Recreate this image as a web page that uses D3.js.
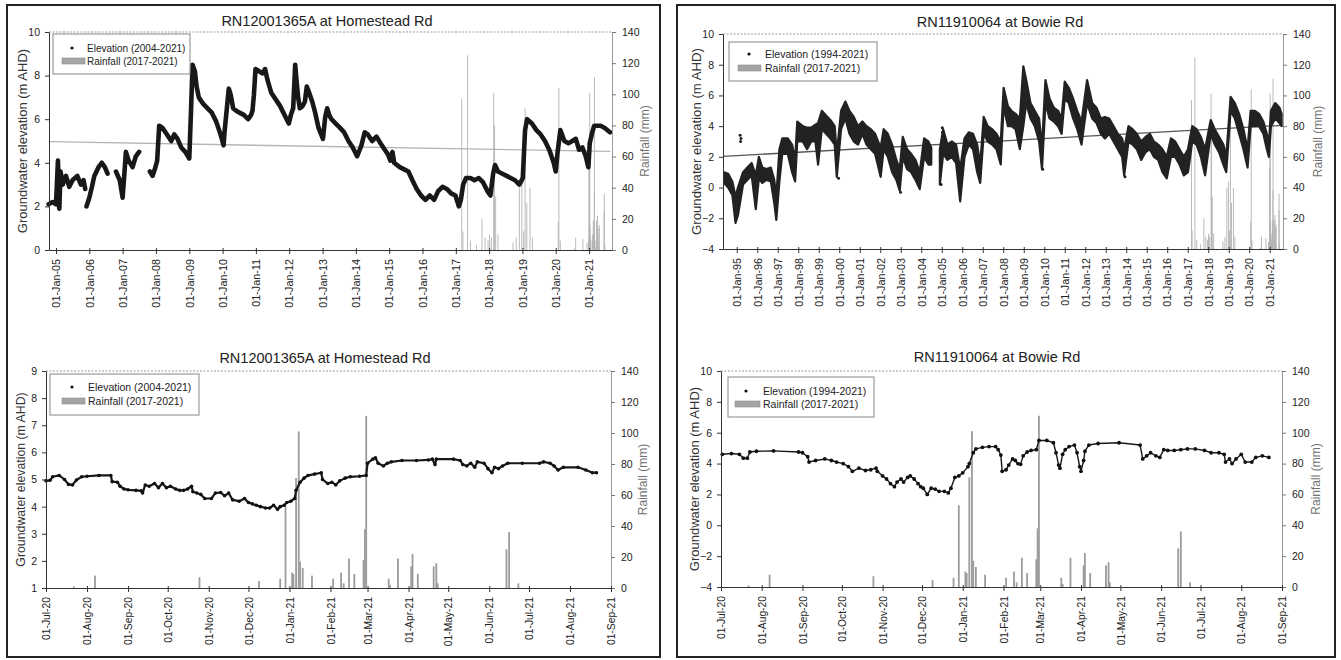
<!DOCTYPE html>
<html><head><meta charset="utf-8">
<script src="https://cdn.jsdelivr.net/npm/d3@7"></script>
<style>
body{margin:0;background:#fff}
svg{display:block}
text{font-family:"Liberation Sans",Arial,sans-serif}
</style>
</head><body>
<svg id="c" width="1341" height="660"></svg>
<script>
// ---------------- DATA ----------------
const tlYTicks = [0,2,4,6,8,10];
const trYTicks = [-4,-2,0,2,4,6,8,10];
const blYTicks = [1,2,3,4,5,6,7,8,9];
const brYTicks = [-4,-2,0,2,4,6,8,10];
const rainTicks = [0,20,40,60,80,100,120,140];

const tlTickLabels = ["01-Jan-05","01-Jan-06","01-Jan-07","01-Jan-08","01-Jan-09","01-Jan-10","01-Jan-11","01-Jan-12","01-Jan-13","01-Jan-14","01-Jan-15","01-Jan-16","01-Jan-17","01-Jan-18","01-Jan-19","01-Jan-20","01-Jan-21"];
const trTickLabels = ["01-Jan-95","01-Jan-96","01-Jan-97","01-Jan-98","01-Jan-99","01-Jan-00","01-Jan-01","01-Jan-02","01-Jan-03","01-Jan-04","01-Jan-05","01-Jan-06","01-Jan-07","01-Jan-08","01-Jan-09","01-Jan-10","01-Jan-11","01-Jan-12","01-Jan-13","01-Jan-14","01-Jan-15","01-Jan-16","01-Jan-17","01-Jan-18","01-Jan-19","01-Jan-20","01-Jan-21"];
const bottomTickLabels = ["01-Jul-20","01-Aug-20","01-Sep-20","01-Oct-20","01-Nov-20","01-Dec-20","01-Jan-21","01-Feb-21","01-Mar-21","01-Apr-21","01-May-21","01-Jun-21","01-Jul-21","01-Aug-21","01-Sep-21"];

// Homestead Rd elevation (2004-2021), null = gap
const tlDates = ["2004-10-12","2004-11-25","2005-01-01","2005-01-22","2005-02-06","2005-02-20","2005-03-15","2005-04-20","2005-05-26","2005-07-01","2005-08-22","2005-10-01","2005-10-30","2005-11-17","2005-11-25","2005-12-01","2006-01-01","2006-01-30","2006-02-25","2006-04-12","2006-05-18","2006-06-20","2006-07-20","2006-08-15","2006-10-20","2006-12-01","2007-01-01","2007-01-22","2007-02-06","2007-03-08","2007-04-20","2007-05-26","2007-07-01","2007-09-01","2007-10-27","2007-11-25","2007-12-20","2008-01-15","2008-02-06","2008-03-14","2008-05-01","2008-06-17","2008-07-20","2008-08-25","2008-10-05","2008-11-18","2009-01-01","2009-01-20","2009-02-06","2009-03-03","2009-03-22","2009-04-15","2009-06-03","2009-07-20","2009-09-05","2009-10-22","2009-12-10","2010-01-12","2010-01-22","2010-02-17","2010-03-10","2010-04-01","2010-04-27","2010-05-26","2010-07-05","2010-08-22","2010-10-08","2010-11-10","2010-11-25","2010-12-10","2010-12-28","2011-02-06","2011-03-14","2011-04-12","2011-05-08","2011-06-20","2011-08-08","2011-09-24","2011-11-10","2011-12-28","2012-01-20","2012-02-14","2012-03-07","2012-03-21","2012-04-08","2012-04-27","2012-05-26","2012-06-21","2012-07-12","2012-08-08","2012-09-10","2012-10-12","2012-11-18","2013-01-05","2013-01-30","2013-02-21","2013-03-14","2013-04-08","2013-05-26","2013-07-12","2013-08-25","2013-10-12","2013-11-28","2014-01-15","2014-03-03","2014-04-08","2014-05-12","2014-06-28","2014-08-15","2014-09-28","2014-11-14","2014-12-17","2015-01-15","2015-02-06","2015-02-25","2015-04-27","2015-06-14","2015-07-31","2015-09-13","2015-10-30","2015-12-17","2016-02-03","2016-03-22","2016-05-08","2016-06-21","2016-08-08","2016-09-24","2016-11-10","2016-12-28","2017-02-03","2017-02-25","2017-03-22","2017-04-23","2017-06-10","2017-07-24","2017-09-10","2017-10-27","2017-12-14","2018-01-15","2018-02-14","2018-03-07","2018-04-08","2018-05-26","2018-07-12","2018-08-25","2018-10-12","2018-11-28","2019-01-05","2019-01-30","2019-02-21","2019-04-15","2019-06-03","2019-07-20","2019-09-05","2019-10-22","2019-12-10","2020-01-01","2020-01-22","2020-02-21","2020-04-05","2020-05-19","2020-07-01","2020-08-08","2020-09-13","2020-10-20","2020-11-25","2020-12-24","2021-01-08","2021-01-30","2021-02-25","2021-05-08","2021-06-21","2021-08-18"];
const tlValues = [2.1,2.2,2.1,4.1,1.9,3.6,3.0,3.4,2.9,3.2,3.4,3.0,3.2,2.8,null,2.0,2.4,2.9,3.4,3.8,4.0,3.8,3.5,null,3.6,3.2,2.4,3.6,4.5,4.1,3.8,4.3,4.5,null,3.6,3.4,3.7,4.1,5.7,5.6,5.3,5.0,5.3,5.1,4.7,4.5,4.2,6.4,8.5,8.2,7.5,7.0,6.7,6.5,6.3,5.9,5.3,4.8,5.4,6.5,7.4,7.1,6.5,6.4,6.3,6.2,6.0,6.2,6.4,7.1,8.3,8.2,8.1,8.3,7.8,7.2,6.9,6.6,6.2,5.8,6.2,6.5,8.5,7.8,7.0,6.5,6.6,6.8,7.5,7.2,6.8,6.3,5.6,5.1,6.1,6.5,6.2,6.0,5.8,5.6,5.4,5.0,4.7,4.3,4.8,5.4,5.3,5.0,5.2,4.9,4.6,4.4,4.1,4.5,4.0,3.8,3.7,3.6,3.2,2.8,2.5,2.3,2.5,2.3,2.7,2.9,2.8,2.6,2.5,2.0,2.3,3.0,3.3,3.3,3.2,3.3,3.1,2.7,2.5,3.5,3.9,3.6,3.5,3.4,3.3,3.2,3.0,3.3,5.5,6.0,5.8,5.5,5.3,5.0,4.6,4.0,3.6,4.5,5.5,5.0,4.9,5.0,5.1,4.6,4.7,4.3,3.8,4.9,5.3,5.7,5.7,5.6,5.4];
const tlTrendDates = ["2004-10-16","2021-08-20"];
const tlTrendValues = [4.97,4.52];

// Bowie Rd elevation (1994-2021): low / high of the dot band
const trDates = ["1994-05-20","1994-08-01","1994-10-15","1994-12-10","1995-01-22","1995-04-23","1995-07-08","1995-09-24","1995-12-06","1996-01-30","1996-04-01","1996-06-14","1996-08-30","1996-10-30","1996-12-06","1997-01-30","1997-03-22","1997-06-28","1997-09-13","1997-11-06","1997-12-14","1998-03-22","1998-06-07","1998-08-20","1998-11-03","1998-12-20","1999-02-25","1999-05-12","1999-07-27","1999-10-12","1999-11-18","2000-02-03","2000-04-20","2000-07-01","2000-09-16","2000-12-01","2001-02-17","2001-05-01","2001-07-16","2001-10-01","2002-01-08","2002-03-03","2002-05-16","2002-07-31","2002-10-15","2002-12-14","2003-02-06","2003-04-23","2003-07-05","2003-09-20","2003-12-06","2004-02-21","2004-05-08","2004-06-28","2004-08-15","2004-11-28","2005-01-26","2005-04-12","2005-06-28","2005-09-13","2005-11-25","2006-02-10","2006-04-27","2006-07-12","2006-09-24","2006-11-17","2007-01-18","2007-04-01","2007-06-17","2007-09-02","2007-11-18","2008-01-08","2008-03-25","2008-05-26","2008-08-08","2008-10-23","2008-12-24","2009-02-14","2009-05-01","2009-07-16","2009-10-01","2009-11-22","2010-01-22","2010-04-05","2010-06-21","2010-09-05","2010-11-06","2011-01-01","2011-03-14","2011-05-30","2011-08-12","2011-10-27","2012-02-03","2012-05-04","2012-07-20","2012-10-05","2012-12-17","2013-03-03","2013-05-19","2013-08-04","2013-10-20","2013-11-25","2014-02-10","2014-04-23","2014-07-08","2014-09-24","2014-12-10","2015-02-25","2015-05-08","2015-07-24","2015-10-08","2015-12-24","2016-03-07","2016-05-22","2016-08-08","2016-10-23","2017-01-05","2017-03-22","2017-06-07","2017-08-22","2017-11-06","2018-02-14","2018-04-27","2018-07-12","2018-09-28","2018-11-18","2019-02-03","2019-04-20","2019-07-05","2019-09-20","2019-12-03","2020-01-26","2020-04-12","2020-06-24","2020-09-09","2020-11-10","2020-12-17","2021-01-22","2021-04-08","2021-06-24","2021-07-31"];
const trLow = [0.3,0.0,-0.5,-2.3,-1.8,0.2,0.5,0.8,-1.4,0.6,0.3,0.5,0.4,-1.0,-2.1,0.4,2.2,2.2,1.0,0.4,3.0,3.0,2.5,3.0,3.0,1.5,3.8,3.5,3.2,2.8,0.7,3.8,4.5,3.5,3.0,2.8,3.5,2.8,2.5,2.2,0.7,2.5,2.0,1.0,0.5,-0.2,2.0,1.2,1.0,0.5,-0.1,2.0,1.5,1.5,null,0.2,2.2,1.8,2.0,1.6,-0.9,2.0,2.8,2.5,1.0,0.3,3.5,3.0,2.8,2.5,1.5,5.3,4.0,4.0,3.8,2.5,4.0,5.5,4.5,4.0,3.0,1.2,5.5,4.5,4.3,4.0,3.5,5.8,5.5,4.5,3.8,2.8,5.5,4.5,4.2,3.5,3.2,3.5,3.0,2.5,2.0,0.8,3.0,2.8,2.5,1.8,2.3,2.5,2.0,1.8,1.0,0.6,2.0,2.0,1.5,0.8,1.0,3.0,2.8,2.0,0.8,3.5,2.8,2.3,1.5,1.0,5.0,4.5,3.5,2.5,1.3,4.0,4.0,4.0,3.5,2.5,2.0,4.0,4.5,4.2,4.0];
const trHigh = [1.0,0.9,0.4,-0.6,0.0,1.0,1.3,1.6,0.8,2.0,1.3,1.2,1.3,0.5,-0.6,2.5,3.2,3.2,2.8,1.8,4.3,4.0,3.9,3.9,4.1,4.2,5.0,4.7,4.4,4.0,2.2,5.0,5.6,5.0,4.6,4.0,4.3,4.0,3.8,3.5,2.6,3.8,3.5,2.8,1.8,1.2,3.3,2.5,2.2,1.8,1.0,3.2,3.0,2.6,null,2.5,3.8,2.8,3.0,2.8,1.2,3.2,3.6,3.5,2.8,1.5,4.6,4.0,3.8,3.5,3.0,6.5,5.3,5.0,4.8,4.5,7.9,7.0,5.5,5.0,4.5,2.6,7.0,5.8,5.2,5.0,4.5,6.9,6.5,5.8,5.0,4.3,7.0,5.5,5.2,4.5,4.6,4.5,4.0,3.5,3.2,2.5,4.0,3.8,3.5,3.0,3.3,3.5,3.0,2.8,2.5,2.0,3.2,3.0,2.5,2.0,2.5,4.0,3.8,3.3,2.5,4.4,3.8,3.3,2.8,2.0,5.9,5.5,4.8,3.8,2.5,5.0,5.0,4.8,4.3,3.5,2.8,5.0,5.5,5.2,4.8];
const trOutDates = ["1995-03-02","1995-03-10","1995-03-18","2004-12-20","2005-01-10","2005-01-15","2009-12-05","2013-12-10","1999-12-20","2002-12-28"];
const trOutValues = [3.4,3.0,3.2,0.2,3.9,3.6,1.2,0.7,0.6,-0.3];
const trTrendDates = ["1994-05-10","2021-08-20"];
const trTrendValues = [2.03,4.05];

// Homestead Rd, Jul 2020 - Aug 2021
const blDates = ["2020-07-01","2020-07-04","2020-07-06","2020-07-11","2020-07-15","2020-07-18","2020-07-21","2020-07-24","2020-07-28","2020-08-01","2020-08-10","2020-08-19","2020-08-20","2020-08-24","2020-08-26","2020-08-29","2020-09-01","2020-09-07","2020-09-11","2020-09-12","2020-09-14","2020-09-17","2020-09-21","2020-09-24","2020-09-27","2020-09-30","2020-10-03","2020-10-07","2020-10-10","2020-10-13","2020-10-16","2020-10-19","2020-10-20","2020-10-23","2020-10-26","2020-10-29","2020-11-03","2020-11-06","2020-11-10","2020-11-13","2020-11-16","2020-11-19","2020-11-24","2020-11-28","2020-12-01","2020-12-04","2020-12-07","2020-12-10","2020-12-14","2020-12-17","2020-12-20","2020-12-23","2020-12-25","2020-12-28","2020-12-30","2021-01-02","2021-01-05","2021-01-06","2021-01-09","2021-01-12","2021-01-15","2021-01-20","2021-01-25","2021-01-26","2021-01-30","2021-02-02","2021-02-05","2021-02-08","2021-02-12","2021-02-16","2021-02-23","2021-02-28","2021-03-01","2021-03-05","2021-03-07","2021-03-09","2021-03-13","2021-03-16","2021-03-19","2021-03-27","2021-04-07","2021-04-16","2021-04-19","2021-04-21","2021-04-22","2021-05-05","2021-05-10","2021-05-12","2021-05-15","2021-05-18","2021-05-21","2021-05-23","2021-05-28","2021-05-31","2021-06-03","2021-06-05","2021-06-08","2021-06-11","2021-06-15","2021-06-26","2021-07-09","2021-07-12","2021-07-17","2021-07-20","2021-07-23","2021-07-27","2021-08-07","2021-08-13","2021-08-18","2021-08-21"];
const blValues = [4.95,4.97,5.1,5.15,5.0,4.82,4.8,4.98,5.1,5.12,5.15,5.15,4.92,4.9,4.75,4.65,4.62,4.6,4.58,4.5,4.8,4.75,4.85,4.7,4.85,4.7,4.75,4.65,4.6,4.6,4.65,4.75,4.55,4.5,4.45,4.3,4.3,4.5,4.52,4.4,4.5,4.25,4.2,4.3,4.15,4.1,4.05,4.0,3.95,3.95,4.05,3.9,4.0,4.05,4.15,4.2,4.3,4.6,4.9,5.05,5.15,5.2,5.25,5.0,4.85,4.9,4.8,4.95,5.05,5.1,5.12,5.15,5.6,5.75,5.8,5.6,5.5,5.6,5.65,5.7,5.7,5.72,5.75,5.55,5.75,5.75,5.7,5.55,5.5,5.6,5.45,5.65,5.6,5.4,5.25,5.45,5.4,5.5,5.6,5.6,5.6,5.65,5.6,5.5,5.35,5.45,5.45,5.35,5.25,5.25];

// Bowie Rd, Jul 2020 - Aug 2021
const brDates = ["2020-07-02","2020-07-09","2020-07-15","2020-07-18","2020-07-21","2020-07-23","2020-07-28","2020-08-10","2020-08-29","2020-09-01","2020-09-05","2020-09-06","2020-09-11","2020-09-18","2020-09-23","2020-09-27","2020-10-02","2020-10-06","2020-10-09","2020-10-14","2020-10-19","2020-10-23","2020-10-27","2020-10-28","2020-11-01","2020-11-04","2020-11-07","2020-11-10","2020-11-12","2020-11-15","2020-11-17","2020-11-20","2020-11-22","2020-11-25","2020-11-28","2020-11-30","2020-12-02","2020-12-05","2020-12-08","2020-12-11","2020-12-14","2020-12-18","2020-12-21","2020-12-23","2020-12-26","2020-12-29","2021-01-01","2021-01-05","2021-01-06","2021-01-09","2021-01-11","2021-01-16","2021-01-21","2021-01-26","2021-01-28","2021-01-30","2021-01-31","2021-02-03","2021-02-05","2021-02-08","2021-02-10","2021-02-12","2021-02-14","2021-02-16","2021-02-19","2021-02-22","2021-02-26","2021-02-28","2021-03-06","2021-03-11","2021-03-13","2021-03-15","2021-03-16","2021-03-18","2021-03-20","2021-03-23","2021-03-27","2021-03-29","2021-03-31","2021-04-01","2021-04-03","2021-04-04","2021-04-07","2021-04-14","2021-04-30","2021-05-16","2021-05-18","2021-05-21","2021-05-24","2021-05-28","2021-05-31","2021-06-03","2021-06-06","2021-06-11","2021-06-16","2021-06-21","2021-06-27","2021-07-04","2021-07-09","2021-07-15","2021-07-19","2021-07-20","2021-07-23","2021-07-25","2021-07-28","2021-08-01","2021-08-04","2021-08-09","2021-08-12","2021-08-17","2021-08-22"];
const brValues = [4.6,4.65,4.6,4.35,4.35,4.75,4.8,4.82,4.75,4.7,4.45,4.1,4.2,4.3,4.2,4.1,4.0,3.8,3.5,3.7,3.55,3.6,3.7,3.5,3.2,3.0,2.7,2.5,2.8,3.0,2.8,3.1,3.2,3.0,2.7,2.5,2.4,2.0,2.4,2.35,2.2,2.2,2.1,2.4,3.1,3.2,3.4,3.8,4.0,4.7,4.95,5.05,5.1,5.1,4.9,4.55,3.5,3.6,3.9,4.3,4.2,4.0,3.95,4.5,4.75,4.85,4.9,5.5,5.5,5.35,4.7,3.9,3.7,4.6,4.9,5.1,5.2,4.7,3.8,3.5,4.2,4.8,5.2,5.3,5.35,5.2,4.3,4.5,4.7,4.5,4.4,4.9,4.85,4.85,4.9,4.95,4.95,4.85,4.7,4.7,4.6,4.1,4.3,4.0,4.3,4.6,4.1,4.1,4.4,4.5,4.4];

// Rainfall (2017-2021), daily mm
const rainDates = ["2017-03-07","2017-03-20","2017-05-08","2017-06-10","2017-08-15","2017-10-15","2017-11-18","2017-12-20","2018-01-05","2018-01-25","2018-02-20","2018-03-02","2018-03-14","2018-04-08","2018-09-20","2018-10-25","2018-11-28","2018-12-26","2019-01-15","2019-01-30","2019-02-18","2019-03-25","2019-04-20","2020-01-28","2020-02-05","2020-02-20","2020-07-22","2020-08-07","2020-10-25","2020-12-09","2020-12-25","2020-12-29","2021-01-03","2021-01-04","2021-01-06","2021-01-08","2021-01-09","2021-01-11","2021-01-18","2021-02-03","2021-02-09","2021-02-11","2021-02-15","2021-02-19","2021-02-26","2021-02-27","2021-02-28","2021-03-17","2021-03-18","2021-03-24","2021-04-03","2021-04-04","2021-04-08","2021-04-20","2021-04-22","2021-04-23","2021-06-14","2021-06-16","2021-06-23"];
const rainValues = [97,12,125,6,3,20,8,6,10,8,101,80,34,10,5,8,40,44,12,91,30,40,8,18,104,6,1,8,7,4.5,6,53,10,9,71,101,17,13,8,6,10,3,19,9,18,38,111,6,2,19,14,22,9,14,16,3,25,36,3];

// ---------------- DRAWING ----------------
const parseDay = d3.timeParse("%Y-%m-%d");
const parseTick = d3.timeParse("%d-%b-%y");
const svg = d3.select("#c");

// outer frames
svg.append("rect").attr("x",7).attr("y",5).attr("width",653).attr("height",652).attr("fill","none").attr("stroke","#222").attr("stroke-width",2);
svg.append("rect").attr("x",677).attr("y",5).attr("width",658).attr("height",652).attr("fill","none").attr("stroke","#222").attr("stroke-width",2);

function panel(p){
  const g = svg.append("g");
  const x = d3.scaleTime().domain(p.xDomain.map(parseDay)).range([p.x0,p.x1]);
  const y = d3.scaleLinear().domain(p.yDomain).range([p.y1,p.y0]);
  const r = d3.scaleLinear().domain([0,140]).range([p.y1,p.y0]);
  const [dMin,dMax] = x.domain();

  // dotted top border
  g.append("line").attr("x1",p.x0).attr("x2",p.x1).attr("y1",p.y0).attr("y2",p.y0)
    .attr("stroke","#999").attr("stroke-dasharray","2,1.5");

  // rainfall bars
  const rain = rainDates.map((d,i)=>({d:parseDay(d),v:rainValues[i]})).filter(o=>o.d>=dMin && o.d<=dMax);
  g.selectAll(null).data(rain).join("rect")
    .attr("x",o=>x(o.d)-p.barW/2).attr("width",p.barW)
    .attr("y",o=>r(o.v)).attr("height",o=>r(0)-r(o.v))
    .attr("fill",p.barColor);

  // trend line
  if(p.trend){
    const td = p.trend.dates.map((d,i)=>({d:parseDay(d),v:p.trend.values[i]}));
    g.append("path").datum(td).attr("d",d3.line().x(o=>x(o.d)).y(o=>y(o.v)))
      .attr("fill","none").attr("stroke",p.trend.color).attr("stroke-width",1.3);
  }

  // elevation
  if(p.band){
    const bd = p.band.dates.map((d,i)=>({d:parseDay(d),lo:p.band.lo[i],hi:p.band.hi[i]}));
    g.append("path").datum(bd)
      .attr("d",d3.area().defined(o=>o.lo!=null).x(o=>x(o.d)).y0(o=>y(o.lo)).y1(o=>y(o.hi)))
      .attr("fill","#222").attr("stroke","#222").attr("stroke-width",2.2).attr("stroke-linejoin","round");
    const od = p.band.outDates.map((d,i)=>({d:parseDay(d),v:p.band.outValues[i]}));
    g.selectAll(null).data(od).join("circle").attr("cx",o=>x(o.d)).attr("cy",o=>y(o.v)).attr("r",1.5).attr("fill","#222");
  }
  if(p.elev){
    const ed = p.elev.dates.map((d,i)=>({d:parseDay(d),v:p.elev.values[i]}));
    g.append("path").datum(ed)
      .attr("d",d3.line().defined(o=>o.v!=null).x(o=>x(o.d)).y(o=>y(o.v)))
      .attr("fill","none").attr("stroke","#181818").attr("stroke-width",p.elev.width)
      .attr("stroke-linejoin","round").attr("stroke-linecap","round");
    if(p.elev.dots){
      g.selectAll(null).data(ed.filter(o=>o.v!=null)).join("circle")
        .attr("cx",o=>x(o.d)).attr("cy",o=>y(o.v)).attr("r",p.elev.dots).attr("fill","#111");
    }
  }

  // axes
  const yAx = g.append("g").attr("transform",`translate(${p.x0},0)`)
    .call(d3.axisLeft(y).tickValues(p.yTicks).tickSize(4).tickSizeOuter(0).tickPadding(5));
  yAx.select(".domain").attr("stroke","#333");
  yAx.selectAll(".tick line").attr("stroke","#333");
  yAx.selectAll("text").attr("font-size",10.5).attr("fill","#222");

  const rAx = g.append("g").attr("transform",`translate(${p.x1},0)`)
    .call(d3.axisRight(r).tickValues(rainTicks).tickSize(4).tickSizeOuter(0).tickPadding(6));
  rAx.select(".domain").attr("stroke","#999");
  rAx.selectAll(".tick line").attr("stroke","#777");
  rAx.selectAll("text").attr("font-size",10.5).attr("fill","#222");

  const fmt = d3.timeFormat("%d-%b-%y");
  const xAx = g.append("g").attr("transform",`translate(0,${p.y1})`)
    .call(d3.axisBottom(x).tickValues(p.xTicks.map(parseTick)).tickFormat(fmt).tickSize(4).tickSizeOuter(0));
  xAx.select(".domain").attr("stroke","#333");
  xAx.selectAll(".tick line").attr("stroke","#333").attr("y1",-2);
  xAx.selectAll("text").attr("font-size",p.xFont).attr("fill","#222")
    .attr("transform","rotate(-90)").attr("text-anchor","end")
    .attr("x",-9).attr("y",0).attr("dy","0.35em");

  // titles
  g.append("text").attr("x",p.titleX).attr("y",p.titleY).attr("text-anchor","middle")
    .attr("font-size",14.5).attr("fill","#222").text(p.title);
  const cy = (p.y0+p.y1)/2;
  g.append("text").attr("transform",`translate(${p.yLabelX},${cy}) rotate(-90)`).attr("text-anchor","middle")
    .attr("dy","0.35em").attr("font-size",p.yLabelFont).attr("fill","#333").text("Groundwater elevation (m AHD)");
  g.append("text").attr("transform",`translate(${p.rLabelX},${cy}) rotate(-90)`).attr("text-anchor","middle")
    .attr("dy","0.35em").attr("font-size",12).attr("fill","#707070").text("Rainfall (mm)");

  // legend
  const L = p.legend;
  g.append("rect").attr("x",L.x).attr("y",L.y).attr("width",L.w).attr("height",L.h)
    .attr("fill","#fff").attr("stroke","#888").attr("stroke-width",1);
  g.append("circle").attr("cx",L.dotX).attr("cy",L.r1).attr("r",1.6).attr("fill","#111");
  g.append("rect").attr("x",L.sw0).attr("y",L.r2-3).attr("width",L.sw1-L.sw0).attr("height",6)
    .attr("fill","#a5a5a5").attr("stroke","#8a8a8a").attr("stroke-width",0.6);
  g.append("text").attr("x",L.tx).attr("y",L.r1).attr("dy","0.35em").attr("font-size",L.fs).attr("fill","#222").text(L.label1);
  g.append("text").attr("x",L.tx).attr("y",L.r2).attr("dy","0.35em").attr("font-size",L.fs).attr("fill","#222").text("Rainfall (2017-2021)");
}

panel({x0:49,x1:612,y0:32,y1:250,xDomain:["2004-10-16","2021-09-09"],yDomain:[0,10],yTicks:tlYTicks,xTicks:tlTickLabels,xFont:10.8,
  title:"RN12001365A at Homestead Rd",titleX:327,titleY:26,yLabelX:22,rLabelX:645,yLabelFont:13,
  barW:0.9,barColor:"#b3b3b3",
  trend:{dates:tlTrendDates,values:tlTrendValues,color:"#b5b5b5"},
  elev:{dates:tlDates,values:tlValues,width:4.6,dots:0},
  legend:{x:53,y:34,w:137,h:40,fs:10,r1:48,r2:61,dotX:72,sw0:62,sw1:85,tx:87,label1:"Elevation (2004-2021)"}});

panel({x0:723,x1:1283,y0:34,y1:249,xDomain:["1994-05-01","2021-08-25"],yDomain:[-4,10],yTicks:trYTicks,xTicks:trTickLabels,xFont:10.8,
  title:"RN11910064 at Bowie Rd",titleX:1000,titleY:27,yLabelX:696,rLabelX:1318,yLabelFont:13.2,
  barW:0.9,barColor:"#b3b3b3",
  trend:{dates:trTrendDates,values:trTrendValues,color:"#555"},
  band:{dates:trDates,lo:trLow,hi:trHigh,outDates:trOutDates,outValues:trOutValues},
  legend:{x:729,y:42,w:148,h:39,fs:10.5,r1:54,r2:68,dotX:749,sw0:738,sw1:761,tx:765,label1:"Elevation (1994-2021)"}});

panel({x0:46,x1:611,y0:371,y1:588,xDomain:["2020-07-01","2021-09-01"],yDomain:[1,9],yTicks:blYTicks,xTicks:bottomTickLabels,xFont:10.3,
  title:"RN12001365A at Homestead Rd",titleX:325,titleY:363,yLabelX:21,rLabelX:643,yLabelFont:12.3,
  barW:1.8,barColor:"#9c9c9c",
  elev:{dates:blDates,values:blValues,width:2.2,dots:1.8},
  legend:{x:50,y:374,w:149,h:41,fs:10.5,r1:387,r2:401,dotX:72,sw0:62,sw1:85,tx:88,label1:"Elevation (2004-2021)"}});

panel({x0:721,x1:1282,y0:371,y1:587,xDomain:["2020-07-01","2021-09-01"],yDomain:[-4,10],yTicks:brYTicks,xTicks:bottomTickLabels,xFont:10.3,
  title:"RN11910064 at Bowie Rd",titleX:997,titleY:362,yLabelX:694,rLabelX:1316,yLabelFont:13,
  barW:1.8,barColor:"#9c9c9c",
  elev:{dates:brDates,values:brValues,width:1.4,dots:1.9},
  legend:{x:728,y:377,w:146,h:40,fs:10.5,r1:391,r2:404,dotX:746,sw0:735,sw1:760,tx:763,label1:"Elevation (1994-2021)"}});
</script>
</body></html>
